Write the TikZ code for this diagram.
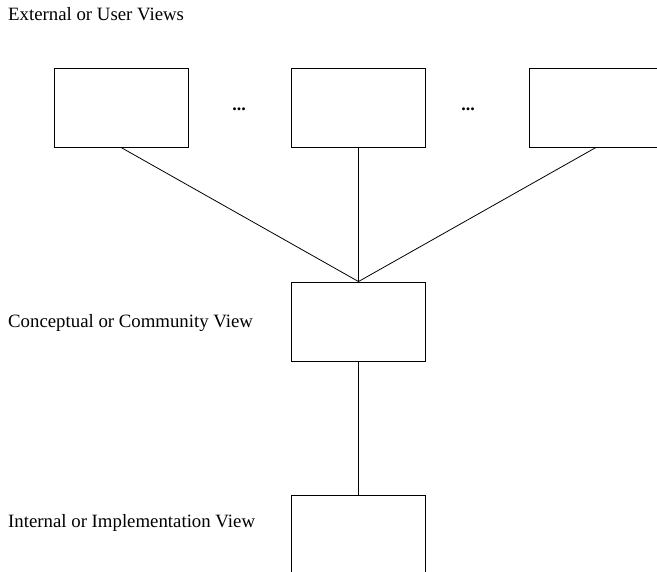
\documentclass[tikz,border=0pt]{standalone}
\usepackage{fontspec}
\setmainfont{Liberation Serif}
\begin{document}
\begin{tikzpicture}[x=1pt,y=-1pt,
  viewbox/.style={draw, line width=0.9pt, minimum width=134pt, minimum height=79pt, inner sep=0pt},
  level/.style={anchor=base west, inner sep=0pt, font=\fontsize{18.8}{22}\selectfont},
  gap/.style={anchor=base, inner sep=0pt, font=\fontsize{18}{20}\selectfont\bfseries},
  link/.style={line width=0.8pt}]
\useasboundingbox (0,0) rectangle (657,572);
\clip (0,0) rectangle (657,572);
% level labels
\node[level] (lext) at (8,21) {External or User Views};
\node[level] (lcon) at (8,328) {Conceptual or Community View};
\node[level] (lint) at (8,528) {Internal or Implementation View};
% external views
\node[viewbox] (e1) at (121,107.5) {};
\node[viewbox] (e2) at (358.5,107.5) {};
\node[viewbox] (e3) at (596,107.5) {};
\node[gap] (d1) at (239,111) {...};
\node[gap] (d2) at (468,111) {...};
% conceptual and internal views
\node[viewbox] (c) at (358.5,321.5) {};
\node[viewbox, minimum height=120pt] (i) at (358.5,555) {};
% mappings between levels
\draw[link] (e1.south) -- (c.north);
\draw[link] (e2.south) -- (c.north);
\draw[link] (e3.south) -- (c.north);
\draw[link] (c.south) -- (i.north);
\end{tikzpicture}
\end{document}
